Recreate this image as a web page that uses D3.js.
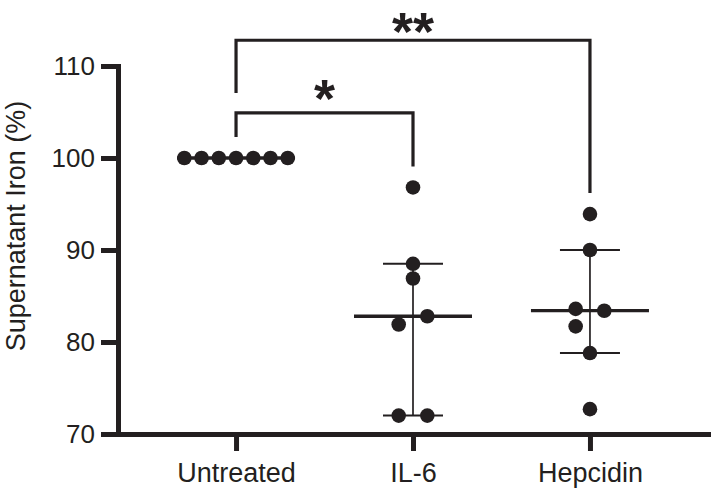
<!DOCTYPE html>
<html>
<head>
<meta charset="utf-8">
<title>Supernatant Iron</title>
<script src="https://d3js.org/d3.v7.min.js"></script>
<style>
body { margin: 0; background: #fff; }
text { font-family: "Liberation Sans", Arial, Helvetica, sans-serif; fill: #231f20; }
.axis path, .axis line { stroke: #231f20; stroke-width: 5px; }
.axis path { stroke-linecap: square; }
</style>
</head>
<body>
<div id="chart"></div>
<script>
// values
var groups = ["Untreated", "IL-6", "Hepcidin"];
var untreated = [100, 100, 100, 100, 100, 100, 100];
var il6 = [96.8, 88.5, 86.9, 81.9, 82.8, 72.0, 72.0];
var hepcidin = [93.9, 90.0, 83.6, 83.4, 81.7, 78.8, 72.7];
var yTicks = [70, 80, 90, 100, 110];
var comparisons = [
  {from: "Untreated", to: "IL-6", label: "*"},
  {from: "Untreated", to: "Hepcidin", label: "**"}
];

var series = [untreated, il6, hepcidin];
var ink = "#231f20";
var dotR = 7.3;
var colWidth = 118;
var pairGap = 28.6;

var svg = d3.select("#chart").append("svg")
    .attr("width", 720)
    .attr("height", 490);

var y = d3.scaleLinear().domain([70, 110]).range([434, 66]);
var x = d3.scalePoint().domain(groups).range([118, 708]).padding(0.667);

// prism style quartiles
function quart(sorted, p) {
  var h = (sorted.length + 1) * p - 1;
  h = Math.max(0, Math.min(sorted.length - 1, h));
  var lo = Math.floor(h);
  if (lo >= sorted.length - 1) return sorted[sorted.length - 1];
  return sorted[lo] + (h - lo) * (sorted[lo + 1] - sorted[lo]);
}

// put points with nearly the same value side by side
function spread(vals) {
  var d = 2 * dotR;
  var idx = vals.map(function(v, i) { return i; })
    .sort(function(a, b) { return vals[b] - vals[a] || a - b; });
  var rows = [], cur = [];
  idx.forEach(function(i) {
    if (cur.length && Math.abs(y(vals[i]) - y(vals[cur[0]])) < 0.75 * d) cur.push(i);
    else { if (cur.length) rows.push(cur); cur = [i]; }
  });
  rows.push(cur);
  var off = vals.map(function() { return 0; });
  rows.forEach(function(r, ri) {
    r.sort(function(a, b) { return a - b; });
    var gap = r.length > 1 ? Math.min(pairGap, (colWidth - d) / (r.length - 1)) : 0;
    r.forEach(function(i, k) { off[i] = (k - (r.length - 1) / 2) * gap; });
    // a lone dot that would touch a pair just above tucks under its left dot
    if (r.length == 1 && ri > 0) {
      var prev = rows[ri - 1];
      if (prev.length > 1 && Math.abs(y(vals[r[0]]) - y(vals[prev[prev.length - 1]])) < 1.15 * d)
        off[r[0]] = off[prev[0]];
    }
  });
  return off;
}

// axes
svg.append("g")
    .attr("class", "axis")
    .attr("transform", "translate(0,434)")
    .call(d3.axisBottom(x).tickSize(17).tickSizeOuter(0).tickPadding(12))
    .call(function(g) {
      g.selectAll("text").style("font-size", "27px").attr("fill", ink);
    });

svg.append("g")
    .attr("class", "axis")
    .attr("transform", "translate(118,0)")
    .call(d3.axisLeft(y).tickValues(yTicks).tickSize(17).tickSizeOuter(0).tickPadding(6))
    .call(function(g) {
      g.selectAll("text").style("font-size", "26px").attr("fill", ink);
    });

svg.append("text")
    .attr("transform", "translate(25,226) rotate(-90)")
    .attr("text-anchor", "middle")
    .style("font-size", "27px")
    .text("Supernatant Iron (%)");

// median + interquartile range, then the dots
series.forEach(function(vals, gi) {
  var cx = x(groups[gi]);
  var s = vals.slice().sort(d3.ascending);
  var med = quart(s, 0.5), q1 = quart(s, 0.25), q3 = quart(s, 0.75);
  var g = svg.append("g");

  g.append("line")
      .attr("x1", cx).attr("x2", cx)
      .attr("y1", y(q1)).attr("y2", y(q3))
      .attr("stroke", ink).attr("stroke-width", 1.7);
  [q1, q3].forEach(function(v) {
    g.append("line")
        .attr("x1", cx - 30).attr("x2", cx + 30)
        .attr("y1", y(v)).attr("y2", y(v))
        .attr("stroke", ink).attr("stroke-width", 2);
  });
  g.append("line")
      .attr("x1", cx - colWidth / 2).attr("x2", cx + colWidth / 2)
      .attr("y1", y(med)).attr("y2", y(med))
      .attr("stroke", ink).attr("stroke-width", 3.3);

  var off = spread(vals);
  g.selectAll("circle")
      .data(vals)
      .enter()
      .append("circle")
      .attr("cx", function(d, i) { return cx + off[i]; })
      .attr("cy", function(d) { return y(d); })
      .attr("r", dotR)
      .attr("fill", ink);
});

// significance brackets
var legGap = 21;
var tops = [y(104.9), y(112.8)];
var stackBottom = null;
comparisons.forEach(function(c, i) {
  var a = groups.indexOf(c.from), b = groups.indexOf(c.to);
  var x1 = x(c.from), x2 = x(c.to);
  var leftEnd = (stackBottom === null ? y(d3.max(series[a])) : stackBottom) - legGap;
  var rightEnd = y(d3.max(series[b])) - legGap;
  var top = tops[i];
  svg.append("path")
      .attr("d", "M" + x1 + "," + leftEnd + "V" + top + "H" + x2 + "V" + rightEnd)
      .attr("fill", "none")
      .attr("stroke", ink)
      .attr("stroke-width", 3.2);
  var fs = 54;
  // keep the whole text box inside the page
  var base = Math.max(top - 27 + 0.57 * fs, 0.92 * fs);
  svg.append("text")
      .attr("x", (x1 + x2) / 2)
      .attr("y", base)
      .attr("text-anchor", "middle")
      .style("font-size", fs + "px")
      .style("font-weight", "bold")
      .text(c.label);
  stackBottom = top + 1;
});
</script>
</body>
</html>
